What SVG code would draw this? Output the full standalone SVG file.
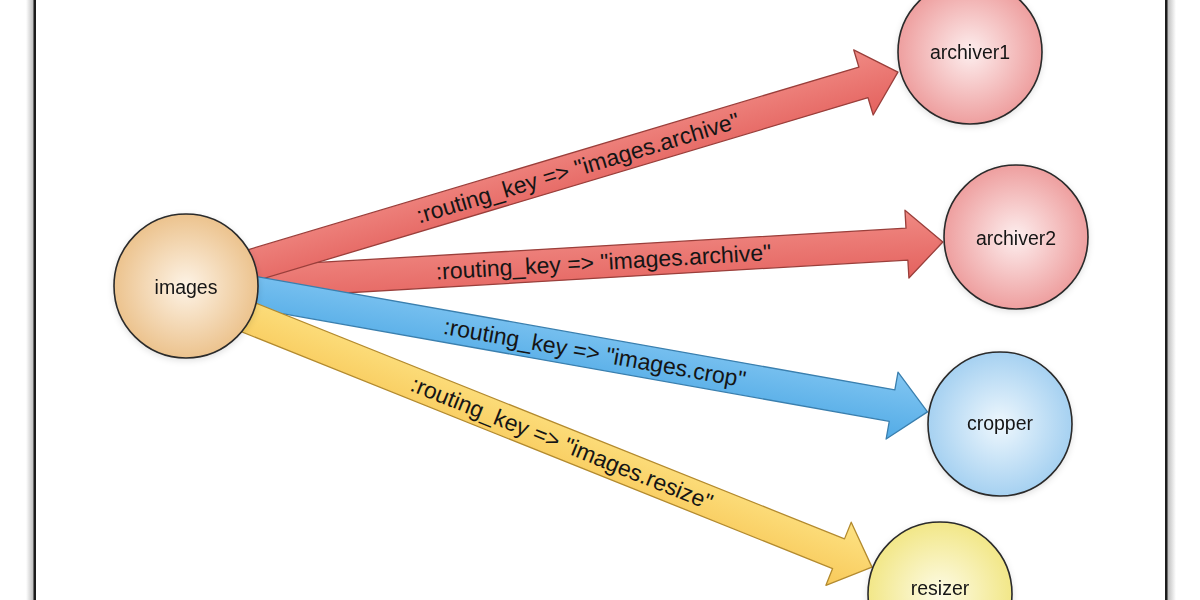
<svg xmlns="http://www.w3.org/2000/svg" width="1200" height="600" viewBox="0 0 1200 600">
<style>
.node-label{font-family:"Liberation Sans",Arial,sans-serif;font-size:19.5px;fill:#151515;text-anchor:middle;dominant-baseline:central}
.edge-label{font-family:"Liberation Sans",Arial,sans-serif;font-size:23px;fill:#151515;text-anchor:middle;dominant-baseline:central}
.circle{stroke:#2a2a2a;stroke-width:1.6}
.arrow{stroke-width:1.3;stroke-linejoin:round}
</style>
<defs>
<radialGradient id="gImages" cx="0.5" cy="0.5" r="0.5"><stop offset="0" stop-color="#fdf3e6"/><stop offset="1" stop-color="#ecc38e"/></radialGradient>
<radialGradient id="gArch" cx="0.5" cy="0.5" r="0.5"><stop offset="0" stop-color="#fdeeee"/><stop offset="1" stop-color="#ee9f9f"/></radialGradient>
<radialGradient id="gCrop" cx="0.5" cy="0.5" r="0.5"><stop offset="0" stop-color="#eef7fd"/><stop offset="1" stop-color="#a6d1f1"/></radialGradient>
<radialGradient id="gRes" cx="0.5" cy="0.5" r="0.5"><stop offset="0" stop-color="#fdfbe6"/><stop offset="1" stop-color="#f2e788"/></radialGradient>
<linearGradient id="aRed" x1="0" y1="0" x2="0" y2="1"><stop offset="0" stop-color="#f08a84"/><stop offset="1" stop-color="#e4625e"/></linearGradient>
<linearGradient id="aBlue" x1="0" y1="0" x2="0" y2="1"><stop offset="0" stop-color="#82c6f2"/><stop offset="1" stop-color="#52abe6"/></linearGradient>
<linearGradient id="aYel" x1="0" y1="0" x2="0" y2="1"><stop offset="0" stop-color="#fde283"/><stop offset="1" stop-color="#f8c95a"/></linearGradient>
<linearGradient id="shL" x1="0" y1="0" x2="1" y2="0"><stop offset="0" stop-color="#ffffff"/><stop offset="1" stop-color="#b8b8b8"/></linearGradient>
<linearGradient id="shR" x1="0" y1="0" x2="1" y2="0"><stop offset="0" stop-color="#b8b8b8"/><stop offset="1" stop-color="#ffffff"/></linearGradient>
<filter id="soft" x="-20%" y="-20%" width="140%" height="140%"><feDropShadow dx="0" dy="2" stdDeviation="3" flood-color="#000" flood-opacity="0.12"/></filter>
</defs>
<rect width="1200" height="600" fill="#ffffff"/>
<g id="frame">
<rect x="26" y="0" width="8" height="600" fill="url(#shL)"/>
<rect x="33.5" y="0" width="2.5" height="600" fill="#1c1c1c"/>
<rect x="1167" y="0" width="9" height="600" fill="url(#shR)"/>
<rect x="1165" y="0" width="2.5" height="600" fill="#1c1c1c"/>
</g>
<g id="connectors">
<g id="edge-archiver2" transform="translate(218.1,284.3) rotate(-3.34)">
<polygon class="arrow" fill="url(#aRed)" stroke="#9a3f3b" points="0,-16 690,-16 690,-34 726,0 690,34 690,16 0,16"/>
<text class="edge-label" x="386" y="0">:routing_key =&gt; "images.archive"</text>
</g>
<g id="edge-archiver1" transform="translate(217.7,275.5) rotate(-16.65)">
<polygon class="arrow" fill="url(#aRed)" stroke="#9a3f3b" points="0,-16 674,-16 674,-34 710,0 674,34 674,16 0,16"/>
<text class="edge-label" x="376" y="0">:routing_key =&gt; "images.archive"</text>
</g>
<g id="edge-cropper" transform="translate(218.6,286) rotate(10.07)">
<polygon class="arrow" fill="url(#aBlue)" stroke="#3a7fae" points="0,-16 684,-16 684,-34 720,0 684,34 684,16 0,16"/>
<text class="edge-label" x="382" y="0">:routing_key =&gt; "images.crop"</text>
</g>
<g id="edge-resizer" transform="translate(212.9,303.1) rotate(21.83)">
<polygon class="arrow" fill="url(#aYel)" stroke="#b38a2e" points="0,-16 674,-16 674,-34 710,0 674,34 674,16 0,16"/>
<text class="edge-label" x="376" y="0">:routing_key =&gt; "images.resize"</text>
</g>
</g>
<g id="node-images" filter="url(#soft)">
<circle class="circle" cx="186" cy="286" r="72" fill="url(#gImages)"/>
<text class="node-label" x="186" y="287">images</text>
</g>
<g id="node-archiver1" filter="url(#soft)">
<circle class="circle" cx="970" cy="52" r="72" fill="url(#gArch)"/>
<text class="node-label" x="970" y="52">archiver1</text>
</g>
<g id="node-archiver2" filter="url(#soft)">
<circle class="circle" cx="1016" cy="237" r="72" fill="url(#gArch)"/>
<text class="node-label" x="1016" y="238">archiver2</text>
</g>
<g id="node-cropper" filter="url(#soft)">
<circle class="circle" cx="1000" cy="424" r="72" fill="url(#gCrop)"/>
<text class="node-label" x="1000" y="423">cropper</text>
</g>
<g id="node-resizer" filter="url(#soft)">
<circle class="circle" cx="940" cy="594" r="72" fill="url(#gRes)"/>
<text class="node-label" x="940" y="588">resizer</text>
</g>
</svg>
